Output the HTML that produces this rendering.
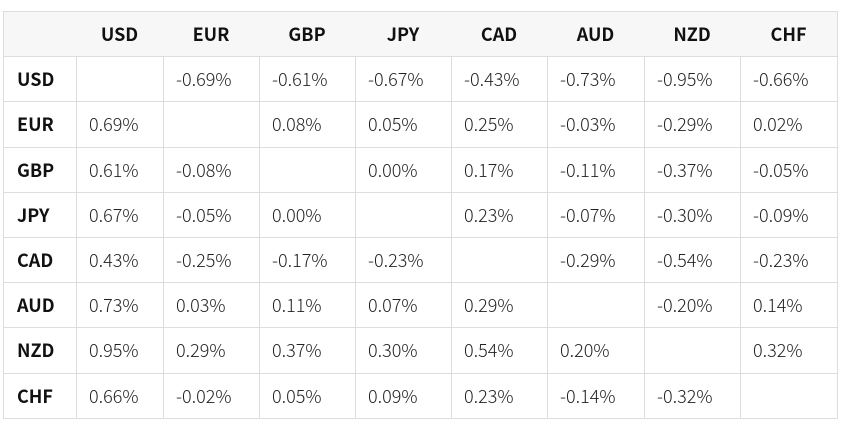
<!DOCTYPE html>
<html><head><meta charset="utf-8"><style>
body{margin:0;width:845px;height:427px;background:#fff;overflow:hidden;font-family:"Noto Sans CJK JP",sans-serif;}
.c{position:absolute;box-sizing:border-box;border-right:1px solid #ddd;border-bottom:1px solid #ddd;font-size:18px;line-height:1;color:#222;display:flex;align-items:center;padding-left:13px;font-weight:300;}
.h{font-weight:bold;color:#111}
.top{background:#f7f7f7}
.ch{justify-content:center;padding-left:0}
</style></head><body>
<div id="t"></div>
<script>
const currencies=["USD","EUR","GBP","JPY","CAD","AUD","NZD","CHF"];
const rowUSD=[null,"-0.69%","-0.61%","-0.67%","-0.43%","-0.73%","-0.95%","-0.66%"];
const rowEUR=["0.69%",null,"0.08%","0.05%","0.25%","-0.03%","-0.29%","0.02%"];
const rowGBP=["0.61%","-0.08%",null,"0.00%","0.17%","-0.11%","-0.37%","-0.05%"];
const rowJPY=["0.67%","-0.05%","0.00%",null,"0.23%","-0.07%","-0.30%","-0.09%"];
const rowCAD=["0.43%","-0.25%","-0.17%","-0.23%",null,"-0.29%","-0.54%","-0.23%"];
const rowAUD=["0.73%","0.03%","0.11%","0.07%","0.29%",null,"-0.20%","0.14%"];
const rowNZD=["0.95%","0.29%","0.37%","0.30%","0.54%","0.20%",null,"0.32%"];
const rowCHF=["0.66%","-0.02%","0.05%","0.09%","0.23%","-0.14%","-0.32%",null];
const rows=[rowUSD,rowEUR,rowGBP,rowJPY,rowCAD,rowAUD,rowNZD,rowCHF];
const xs=[3,76,163,259,355,451,547,644,740,837];
const top0=11,rh=45.2;
const t=document.getElementById('t');
function cell(r,c,txt,cls){
 const d=document.createElement('div');
 d.className='c '+cls;
 const y0=Math.round(top0+r*rh),y1=Math.round(top0+(r+1)*rh);
 d.style.left=xs[c]+'px';d.style.top=y0+'px';
 d.style.width=(xs[c+1]-xs[c]+1)+'px';d.style.height=(y1-y0+1)+'px';
 if(c===0)d.style.borderLeft='1px solid #ddd';
 if(r===0)d.style.borderTop='1px solid #ddd';
 d.textContent=txt||'';
 t.appendChild(d);return d;
}
let d=cell(0,0,'','h top');


currencies.forEach((cur,i)=>{
 const e=cell(0,i+1,cur,'h top ch');
 
 
});
rows.forEach((row,r)=>{
 const e=cell(r+1,0,currencies[r],'h');
 
 
 row.forEach((v,c)=>{
  const f=cell(r+1,c+1,v,'');
  
  
 });
});
</script>
</body></html>
